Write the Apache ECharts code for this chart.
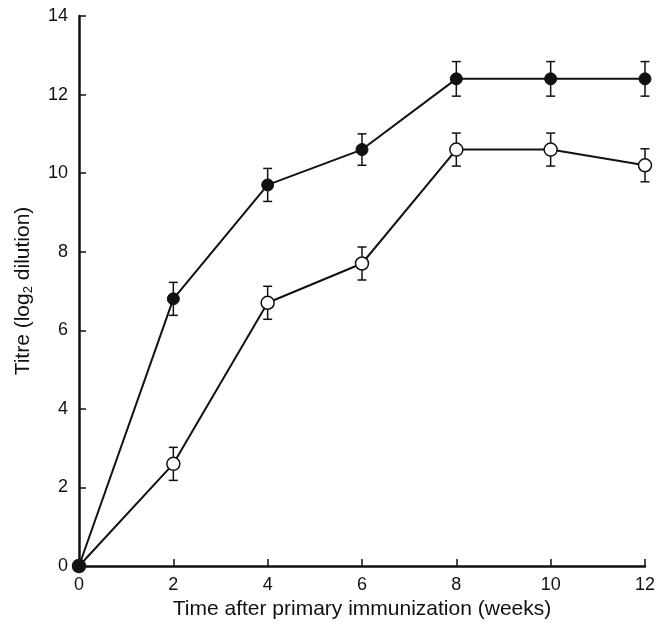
<!DOCTYPE html>
<html>
<head>
    <meta charset="UTF-8">
    <script src="https://cdn.jsdelivr.net/npm/echarts@6/dist/echarts.min.js"></script>
    <title>Titre</title>
    <style>
    html, body { margin: 0; padding: 0; background: #fff; }
    #chart { width: 658px; height: 629px; }
    </style>
</head>
<body>
    <div id="chart"></div>
    <script type="text/javascript">
    // weeks after primary immunization
    var weeks = [0, 2, 4, 6, 8, 10, 12];
    // filled circles
    var filledMean = [0, 6.8, 9.7, 10.6, 12.4, 12.4, 12.4];
    var filledErr = [0, 0.42, 0.42, 0.4, 0.44, 0.44, 0.44];
    // open circles
    var openMean = [0, 2.6, 6.7, 7.7, 10.6, 10.6, 10.2];
    var openErr = [0, 0.42, 0.42, 0.42, 0.42, 0.42, 0.42];

    var pairs = function(ys) {
        return weeks.map(function(x, i) { return [x, ys[i]]; });
    };
    var errData = function(ys, es) {
        var out = [];
        weeks.forEach(function(x, i) {
            if (es[i] > 0) out.push([x, ys[i] - es[i], ys[i] + es[i]]);
        });
        return out;
    };

    var renderErr = function(params, api) {
        var lo = api.coord([api.value(0), api.value(1)]);
        var hi = api.coord([api.value(0), api.value(2)]);
        var w = 4.5;
        var st = { stroke: '#111', lineWidth: 1.5 };
        return {
            type: 'group',
            children: [
                { type: 'line', shape: { x1: lo[0], y1: lo[1], x2: hi[0], y2: hi[1] }, style: st },
                { type: 'line', shape: { x1: lo[0] - w, y1: lo[1], x2: lo[0] + w, y2: lo[1] }, style: st },
                { type: 'line', shape: { x1: hi[0] - w, y1: hi[1], x2: hi[0] + w, y2: hi[1] }, style: st }
            ]
        };
    };

    var chart = echarts.init(document.getElementById('chart'));
    var font = 'Liberation Sans, Arial, sans-serif';

    var option = {
        animation: false,
        backgroundColor: '#fff',
        grid: { left: 79, right: 12, top: 16, bottom: 63 },
        xAxis: {
            type: 'value',
            min: 0, max: 12, interval: 2,
            name: 'Time after primary immunization (weeks)',
            nameLocation: 'middle',
            nameGap: 30,
            nameTextStyle: { fontFamily: font, fontSize: 21, color: '#111' },
            axisLine: { lineStyle: { color: '#111', width: 2.5 } },
            axisTick: { inside: true, length: 7, lineStyle: { color: '#111', width: 1.5 } },
            axisLabel: { fontFamily: font, fontSize: 18, color: '#111', margin: 10 },
            splitLine: { show: false }
        },
        yAxis: {
            type: 'value',
            min: 0, max: 14, interval: 2,
            name: '{n|Titre (log}{s|2}{n| dilution)}',
            nameLocation: 'middle',
            nameGap: 44,
            nameTextStyle: {
                rich: {
                    n: { fontFamily: font, fontSize: 21, color: '#111' },
                    s: { fontFamily: font, fontSize: 13, color: '#111', verticalAlign: 'bottom', padding: [10, 0, 0, 0] }
                }
            },
            axisLine: { show: true, lineStyle: { color: '#111', width: 2.5 } },
            axisTick: { show: true, inside: true, length: 7, lineStyle: { color: '#111', width: 1.5 } },
            axisLabel: { fontFamily: font, fontSize: 18, color: '#111', margin: 11 },
            splitLine: { show: false }
        },
        series: [
            {
                type: 'custom',
                renderItem: renderErr,
                data: errData(filledMean, filledErr),
                z: 1
            },
            {
                type: 'custom',
                renderItem: renderErr,
                data: errData(openMean, openErr),
                z: 1
            },
            {
                type: 'line',
                data: pairs(filledMean),
                symbol: 'circle',
                symbolSize: 12,
                lineStyle: { color: '#111', width: 2 },
                itemStyle: { color: '#111', borderColor: '#111', borderWidth: 1 },
                z: 3
            },
            {
                type: 'line',
                data: pairs(openMean),
                symbol: 'circle',
                symbolSize: 13,
                showAllSymbol: true,
                lineStyle: { color: '#111', width: 2 },
                itemStyle: { color: '#fff', borderColor: '#111', borderWidth: 1.5 },
                z: 2
            }
        ]
    };
    chart.setOption(option);
    </script>
</body>
</html>
